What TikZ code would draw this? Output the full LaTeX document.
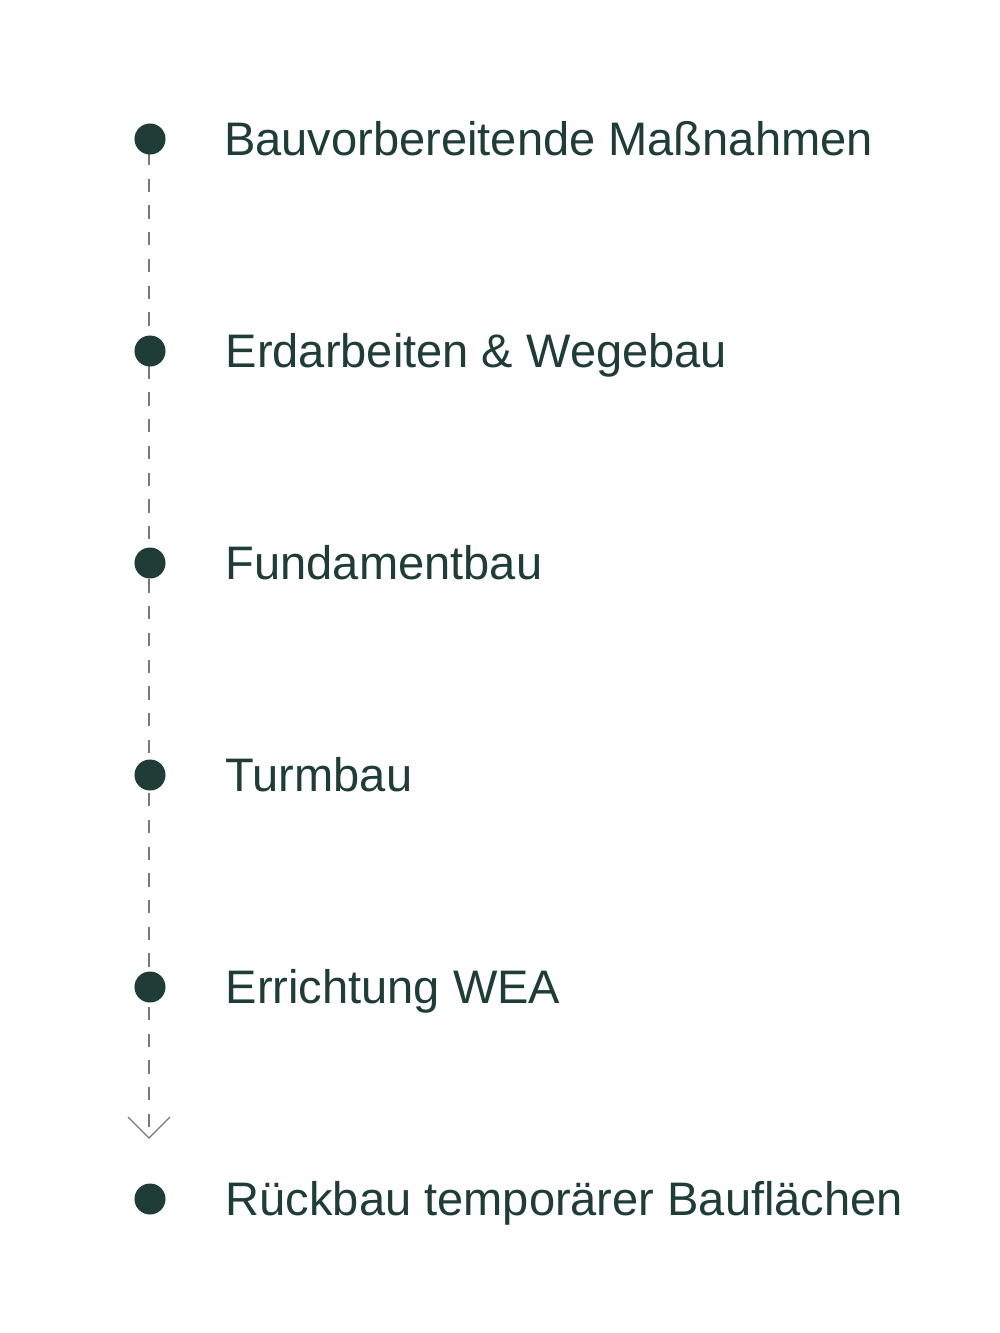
\documentclass[tikz,border=0pt]{standalone}
\usepackage{fontspec}
\setmainfont{Liberation Sans}
\definecolor{dkgreen}{RGB}{31,61,54}
\definecolor{lgray}{RGB}{120,120,120}
\begin{document}
\begin{tikzpicture}[x=0.01cm,y=-0.01cm,
  dot/.style={circle,fill=dkgreen,inner sep=0pt,minimum size=0.31cm},
  label/.style={anchor=base west,inner sep=0pt,text=dkgreen,font=\fontsize{13.38}{16}\selectfont},
  dashline/.style={draw=lgray,line width=0.35pt,dash pattern=on 0.133cm off 0.134cm,dash phase=-0.02cm},
  chev/.style={draw=lgray,line width=0.35pt}]
\useasboundingbox[fill=white] (0,0) rectangle (1000,1333);
\coordinate (top) at (149,150);
\coordinate (tip) at (149,1138);
\coordinate (tipL) at (128,1117);
\coordinate (tipR) at (170,1117);
\draw[dashline] (top) -- (tip);
\draw[chev] (tipL) -- (tip) -- (tipR);
\node[dot] (d1) at (150,139) {};
\node[dot] (d2) at (150,351) {};
\node[dot] (d3) at (150,563) {};
\node[dot] (d4) at (150,775) {};
\node[dot] (d5) at (150,987) {};
\node[dot] (d6) at (150,1199) {};
\node[label] (t1) at (223.5,155.5) {Bauvorbereitende Maßnahmen};
\node[label] (t2) at (225,367.5) {Erdarbeiten \& Wegebau};
\node[label] (t3) at (225,579.5) {Fundamentbau};
\node[label] (t4) at (225,791.5) {Turmbau};
\node[label] (t5) at (225,1003.5) {Errichtung WEA};
\node[label] (t6) at (225,1215.5) {Rückbau temporärer Bauflächen};
\end{tikzpicture}
\end{document}
